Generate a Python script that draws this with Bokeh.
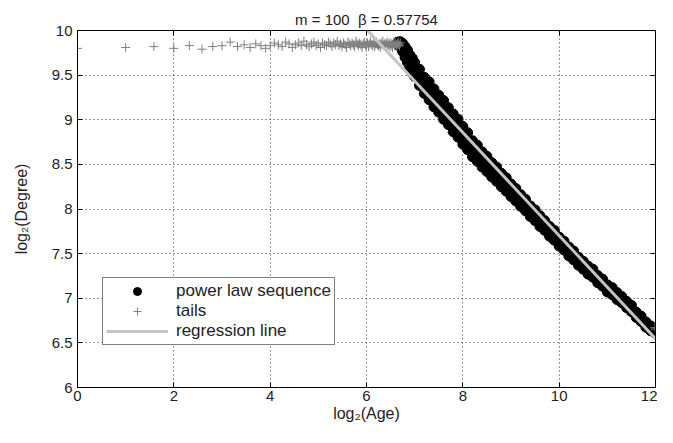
import numpy as np
from bokeh.plotting import figure
from bokeh.models import Range1d, FixedTicker, LinearAxis, Legend, LegendItem, ColumnDataSource
from bokeh.embed import file_html
from bokeh.resources import INLINE

# ---------------- data ----------------
title_text = "m = 100\u00a0\u00a0\u03b2 = 0.57754"

x_ticks = [0, 2, 4, 6, 8, 10, 12]
y_ticks = [6, 6.5, 7, 7.5, 8, 8.5, 9, 9.5, 10]
y_tick_labels = ["6", "6.5", "7", "7.5", "8", "8.5", "9", "9.5", "10"]

# power law sequence (log2 age, log2 degree) - band sampled: centre, upper and lower edge
pl_x = [6.65, 6.7, 6.75, 6.8, 6.85, 6.9, 6.95, 7.0, 7.1, 7.2, 7.3, 7.4, 7.5, 7.6, 7.7, 7.8,
        7.9, 8.0, 8.1, 8.2, 8.3, 8.4, 8.5, 8.6, 8.7, 8.8, 8.9, 9.0, 9.1, 9.2, 9.3, 9.4,
        9.5, 9.6, 9.7, 9.8, 9.9, 10.0, 10.1, 10.2, 10.3, 10.4, 10.5, 10.6, 10.7, 10.8,
        10.9, 11.0, 11.1, 11.2, 11.3, 11.4, 11.5, 11.6, 11.7, 11.8, 11.9, 12.0]
pl_mid = [9.855, 9.845, 9.81, 9.76, 9.71, 9.66, 9.61, 9.56, 9.47, 9.39, 9.32, 9.25, 9.18,
          9.11, 9.04, 8.97, 8.90, 8.83, 8.755, 8.68, 8.62, 8.56, 8.50, 8.445, 8.385, 8.33,
          8.27, 8.215, 8.155, 8.10, 8.04, 7.98, 7.925, 7.87, 7.81, 7.755, 7.70, 7.64,
          7.585, 7.53, 7.475, 7.42, 7.365, 7.32, 7.275, 7.22, 7.17, 7.115, 7.075, 7.03,
          6.98, 6.935, 6.88, 6.82, 6.765, 6.71, 6.66, 6.625]
pl_hi = [9.87, 9.875, 9.855, 9.82, 9.78, 9.725, 9.69, 9.64, 9.565, 9.475, 9.425, 9.345,
         9.275, 9.215, 9.135, 9.065, 9.005, 8.925, 8.855, 8.765, 8.715, 8.64, 8.59, 8.52,
         8.47, 8.40, 8.35, 8.28, 8.23, 8.16, 8.11, 8.035, 7.99, 7.925, 7.87, 7.805, 7.76,
         7.685, 7.64, 7.575, 7.53, 7.46, 7.415, 7.36, 7.325, 7.255, 7.215, 7.15, 7.12,
         7.065, 7.02, 6.965, 6.92, 6.845, 6.80, 6.735, 6.69, 6.645]
pl_lo = [9.84, 9.815, 9.765, 9.70, 9.645, 9.585, 9.525, 9.485, 9.385, 9.295, 9.225, 9.145,
         9.085, 9.005, 8.945, 8.865, 8.805, 8.725, 8.665, 8.585, 8.535, 8.47, 8.42, 8.36,
         8.31, 8.25, 8.20, 8.14, 8.09, 8.03, 7.98, 7.915, 7.87, 7.805, 7.76, 7.695, 7.65,
         7.585, 7.54, 7.475, 7.43, 7.37, 7.325, 7.27, 7.235, 7.175, 7.135, 7.07, 7.04,
         6.985, 6.95, 6.895, 6.85, 6.785, 6.74, 6.675, 6.635, 6.605]

# tails: ages 1..104 (plotted as log2 age) and the last points
tail_age = list(range(1, 105))
tail_y = [9.80, 9.81, 9.82, 9.80, 9.83, 9.79, 9.82, 9.83, 9.87, 9.82, 9.84, 9.81, 9.85, 9.83, 9.80,
          9.83, 9.86, 9.84, 9.82, 9.87, 9.85, 9.81, 9.84, 9.86, 9.83,
          9.88, 9.84, 9.82, 9.85, 9.87, 9.83, 9.85, 9.81, 9.86, 9.84,
          9.83, 9.87, 9.85, 9.82, 9.86, 9.84, 9.88, 9.83, 9.85, 9.82,
          9.86, 9.84, 9.81, 9.87, 9.85, 9.83, 9.86, 9.84, 9.82, 9.88,
          9.85, 9.83, 9.86, 9.84, 9.81, 9.85, 9.87, 9.83, 9.84, 9.86,
          9.82, 9.85, 9.88, 9.84, 9.83, 9.86, 9.82, 9.85, 9.87, 9.84,
          9.83, 9.85, 9.81, 9.86, 9.84, 9.88, 9.83, 9.85, 9.82, 9.86,
          9.84, 9.87, 9.83, 9.85, 9.82, 9.86, 9.84, 9.81, 9.85, 9.87,
          9.83, 9.86, 9.84, 9.82, 9.85, 9.87, 9.84, 9.83, 9.86]
tail_end_x = [11.99, 12.0]
tail_end_y = [6.67, 6.655]

# regression line (slope -beta)
reg_x = [6.02, 12.0]
reg_y = [10.0, 6.546]

FONT = "Liberation Sans"
TXT = "#222222"

# ---------------- figure ----------------
p = figure(width=657, height=427, output_backend="svg", toolbar_location=None,
           x_range=Range1d(0, 12), y_range=Range1d(6, 10),
           min_border_left=77, min_border_right=2, min_border_top=30, min_border_bottom=40,
           title=title_text)
p.title.align = "center"
p.title.text_font = FONT
p.title.text_font_size = "15px"
p.title.text_font_style = "normal"
p.title.text_color = TXT
p.title.standoff = 6
p.outline_line_color = "black"
p.background_fill_color = "white"
p.border_fill_color = "white"

band_src = ColumnDataSource(dict(x=pl_x + pl_x + pl_x, y=pl_lo + pl_mid + pl_hi))
tail_src = ColumnDataSource(dict(x=list(np.log2(tail_age)) + tail_end_x, y=tail_y + tail_end_y))

r_pl = p.scatter("x", "y", source=band_src, marker="circle", size=10,
                 fill_color="black", line_color="black")
r_tail = p.scatter("x", "y", source=tail_src, marker="cross", size=9,
                   line_color="#7f7f7f", line_width=1)
r_reg = p.line(reg_x, reg_y, line_color="#c4c4c4", line_width=3)

# axes
def style_axis(ax, ticks, show_labels=True):
    ax.ticker = FixedTicker(ticks=ticks)
    ax.axis_line_color = "black"
    ax.major_tick_line_color = "black"
    ax.major_tick_in = 5
    ax.major_tick_out = 0
    ax.minor_tick_in = 0
    ax.minor_tick_out = 0
    ax.major_label_text_font = FONT
    if show_labels:
        ax.major_label_text_font_size = "15px"
        ax.major_label_text_color = TXT
    else:
        ax.major_label_text_font_size = "0px"
        ax.major_label_text_color = None
        ax.major_label_standoff = 0

xa = p.xaxis[0]
style_axis(xa, x_ticks)
xa.major_label_standoff = 3
xa.axis_label = "log\u2082(Age)"
xa.axis_label_text_font = FONT
xa.axis_label_text_font_size = "16px"
xa.axis_label_text_font_style = "normal"
xa.axis_label_text_color = TXT
xa.axis_label_standoff = 1

ya = p.yaxis[0]
style_axis(ya, y_ticks)
ya.major_label_overrides = {t: s for t, s in zip(y_ticks, y_tick_labels)}
ya.major_label_standoff = 5
ya.axis_label = "log\u2082(Degree)"
ya.axis_label_text_font = FONT
ya.axis_label_text_font_size = "16px"
ya.axis_label_text_font_style = "normal"
ya.axis_label_text_color = TXT
ya.axis_label_standoff = 19

top_ax = LinearAxis()
style_axis(top_ax, x_ticks, show_labels=False)
p.add_layout(top_ax, "above")
right_ax = LinearAxis()
style_axis(right_ax, y_ticks, show_labels=False)
p.add_layout(right_ax, "right")

for g in (p.xgrid[0], p.ygrid[0]):
    g.grid_line_color = "#333333"
    g.grid_line_dash = "1 3"
    g.grid_line_width = 1
p.xgrid[0].ticker = FixedTicker(ticks=x_ticks)
p.ygrid[0].ticker = FixedTicker(ticks=y_ticks)

legend = Legend(items=[LegendItem(label="power law sequence", renderers=[r_pl]),
                       LegendItem(label="tails", renderers=[r_tail]),
                       LegendItem(label="regression line", renderers=[r_reg])],
                location=(25, 42))
legend.glyph_width = 62
legend.glyph_height = 20
legend.label_height = 20
legend.label_standoff = 8
legend.label_text_font = FONT
legend.label_text_font_size = "17px"
legend.label_text_color = TXT
legend.padding = 3
legend.spacing = 0
legend.margin = 0
legend.border_line_color = "black"
legend.border_line_width = 1
legend.background_fill_alpha = 1.0
p.add_layout(legend)

open("out.html", "w").write(file_html(p, INLINE))
